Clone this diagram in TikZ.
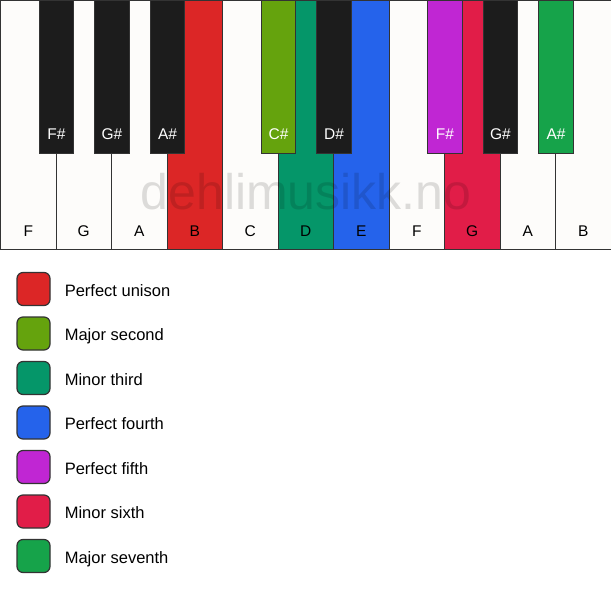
\documentclass[tikz,border=0pt]{standalone}
\usepackage{fontspec}
\setmainfont{Liberation Sans}
\usepackage{tikz}
\usetikzlibrary{positioning}

\definecolor{keyblack}{HTML}{1C1C1C}
\definecolor{keywhite}{HTML}{FDFCFA}
\definecolor{keyline}{HTML}{333333}
\definecolor{unison}{HTML}{DC2626}
\definecolor{second}{HTML}{65A30D}
\definecolor{third}{HTML}{059669}
\definecolor{fourth}{HTML}{2563EB}
\definecolor{fifth}{HTML}{C026D3}
\definecolor{sixth}{HTML}{E11D48}
\definecolor{seventh}{HTML}{16A34A}

\tikzset{
    whitekey/.style={draw=keyline, line width=1pt, anchor=north west,
        minimum width=55.5pt, minimum height=249pt, inner sep=0pt},
    blackkey/.style={draw=keyline, line width=1pt, anchor=north,
        minimum width=34.5pt, minimum height=153pt, inner sep=0pt},
    keyname/.style={font=\fontsize{15.5}{18}\selectfont, inner sep=0pt},
    swatch/.style={draw=keyline, line width=1.2pt, rounded corners=6pt,
        minimum width=33pt, minimum height=33pt, inner sep=0pt},
    legendtext/.style={font=\fontsize{16.5}{19}\selectfont, anchor=base west, inner sep=0pt}
}

\begin{document}
\begin{tikzpicture}[x=1pt,y=-1pt]
    \useasboundingbox[fill=white] (0,0) rectangle (611,594);

    % white keys
    \foreach \name/\col [count=\i] in {F/keywhite,G/keywhite,A/keywhite,B/unison,
        C/keywhite,D/third,E/fourth,F/keywhite,G/sixth,A/keywhite,B/keywhite} {
        \node[whitekey, fill=\col] (w\i) at ({(\i-1)*55.5}, 0) {};
        \node[keyname] (wn\i) at ([yshift=19pt]w\i.south) {\name};
    }

    % black keys
    \foreach \name/\col/\i in {F\#/keyblack/1, G\#/keyblack/2, A\#/keyblack/3,
        C\#/second/5, D\#/keyblack/6, F\#/fifth/8, G\#/keyblack/9, A\#/seventh/10} {
        \node[blackkey, fill=\col] (b\i) at (w\i.north east) {};
        \node[keyname, text=white] (bn\i) at ([yshift=20pt]b\i.south) {\name};
    }

    % watermark
    \node[font=\fontsize{50}{56}\selectfont, text=black, opacity=0.13] (mark) at (306,192) {dehlimusikk.no};

    % legend
    \foreach \col/\txt [count=\j] in {unison/Perfect unison, second/Major second,
        third/Minor third, fourth/Perfect fourth, fifth/Perfect fifth,
        sixth/Minor sixth, seventh/Major seventh} {
        \node[swatch, fill=\col] (s\j) at (33.5, {289+(\j-1)*44.5}) {};
        \node[legendtext] (t\j) at ([xshift=14pt, yshift=-7pt]s\j.east) {\txt};
    }
\end{tikzpicture}
\end{document}
